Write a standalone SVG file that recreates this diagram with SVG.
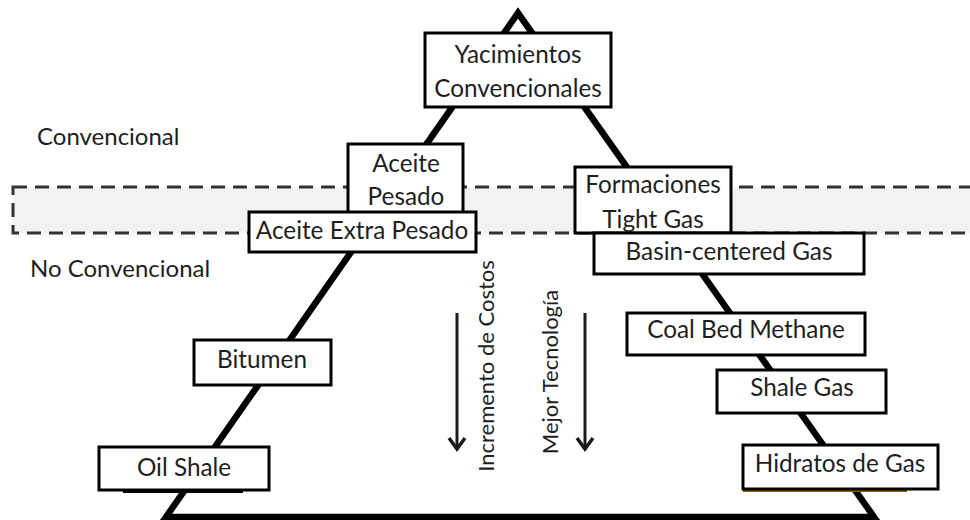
<svg xmlns="http://www.w3.org/2000/svg" width="970" height="520" viewBox="0 0 970 520">
  <defs>
    <style>
      .box { fill: #ffffff; stroke: #000000; stroke-width: 3; }
      .lbl { font-family: Lato, "Liberation Sans", sans-serif; font-size: 24.3px; fill: #1e1e1e; }
      .side { font-size: 24px; }
      .rot { font-size: 22px; }
      .mid { text-anchor: middle; }
      .tri { fill: none; stroke: #000000; stroke-width: 6.5; stroke-linejoin: miter; }
      .band { fill: #f2f2f2; stroke: #333333; stroke-width: 3; stroke-dasharray: 14 8; }
      .arr { stroke: #1a1a1a; stroke-width: 3; fill: none; }
      .head { fill: none; stroke: #1a1a1a; stroke-width: 3.5; }
    </style>
  </defs>

  <rect width="970" height="520" fill="#ffffff"/>

  <!-- transition band between conventional and unconventional -->
  <rect class="band" x="13" y="187" width="970" height="46"/>

  <g id="connectors">
    <!-- pyramid outline -->
    <path class="tri" d="M166,517 L518,13 L874,517 Z"/>
    <!-- direction arrows -->
    <line class="arr" x1="457" y1="313" x2="457" y2="448"/>
    <path class="head" d="M449,438 L457,449 L465,438"/>
    <line class="arr" x1="585" y1="313" x2="585" y2="448"/>
    <path class="head" d="M577,438 L585,449 L593,438"/>
  </g>

  <!-- section labels -->
  <text class="lbl side" x="37" y="145">Convencional</text>
  <text class="lbl side" x="30" y="277">No Convencional</text>

  <text class="lbl rot mid" transform="translate(494,366) rotate(-90)">Incremento de Costos</text>
  <text class="lbl rot mid" transform="translate(558,372) rotate(-90)">Mejor Tecnología</text>

  <g id="yacimientos">
    <rect class="box" x="425" y="33" width="186" height="74"/>
    <text class="lbl mid" x="518" y="63">Yacimientos</text>
    <text class="lbl mid" x="518" y="97">Convencionales</text>
  </g>

  <g id="aceite-pesado">
    <rect class="box" x="348" y="144" width="115" height="70"/>
    <text class="lbl mid" x="406" y="172">Aceite</text>
    <text class="lbl mid" x="406" y="205">Pesado</text>
  </g>

  <g id="aceite-extra-pesado">
    <rect class="box" x="249" y="212" width="227" height="40"/>
    <text class="lbl mid" x="362" y="239">Aceite Extra Pesado</text>
  </g>

  <g id="formaciones-tight-gas">
    <rect class="box" x="575" y="167" width="156" height="66"/>
    <text class="lbl mid" x="653" y="193">Formaciones</text>
    <text class="lbl mid" x="653" y="228">Tight Gas</text>
  </g>

  <g id="basin-centered-gas">
    <rect class="box" x="594" y="233" width="270" height="41"/>
    <text class="lbl mid" x="729" y="260">Basin-centered Gas</text>
  </g>

  <g id="coal-bed-methane">
    <rect class="box" x="627" y="313" width="238" height="42"/>
    <text class="lbl mid" x="746" y="338">Coal Bed Methane</text>
  </g>

  <g id="shale-gas">
    <rect class="box" x="717" y="370" width="169" height="43"/>
    <text class="lbl mid" x="802" y="396">Shale Gas</text>
  </g>

  <g id="hidratos-de-gas">
    <line x1="743" y1="491" x2="907" y2="491" stroke="#7f6000" stroke-width="2"/>
    <rect class="box" x="743" y="445" width="195" height="44"/>
    <text class="lbl mid" x="840" y="472">Hidratos de Gas</text>
  </g>

  <g id="bitumen">
    <rect class="box" x="194" y="340" width="137" height="45"/>
    <text class="lbl mid" x="262" y="368">Bitumen</text>
  </g>

  <g id="oil-shale">
    <line x1="123" y1="492" x2="243" y2="492" stroke="#000000" stroke-width="2"/>
    <rect class="box" x="99" y="447" width="170" height="43"/>
    <text class="lbl mid" x="184" y="476">Oil Shale</text>
  </g>
</svg>
